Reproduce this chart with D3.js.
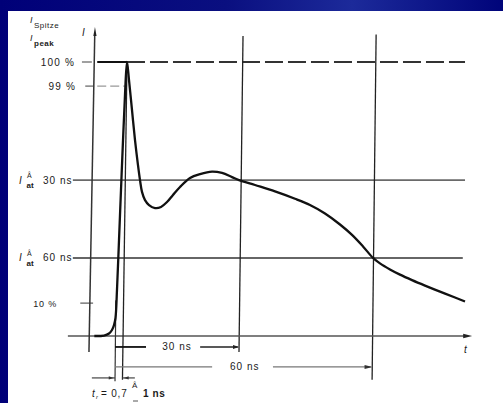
<!DOCTYPE html>
<html><head><meta charset="utf-8">
<script src="https://cdn.jsdelivr.net/npm/d3@7"></script>
<style>body{margin:0;background:#fff}svg{display:block}text{font-family:"Liberation Sans",Arial,sans-serif;fill:#1a1a1a}</style>
</head><body><svg id="c" width="503" height="403"></svg>
<script>
const curveT = [-5, -2.66, -1.45, -0.73, -0.24, 0.12, 0.48, 0.97, 1.45, 1.94, 2.42, 2.9, 3.39, 4.11, 4.84, 5.56, 6.05, 6.53, 7.26, 8.23, 9.68, 11.13, 12.58, 14.03, 15.73, 18.15, 20.57, 23.47, 25.89, 28.31, 30, 33.58, 38.06, 42.54, 45.89, 49.25, 52.61, 55.30, 57.76, 60, 61.56, 63.8, 66.04, 68.73, 71.64, 75.0, 78.36, 80.6];
const curveV = [0, 0.18, 0.9, 2.2, 4.0, 6.6, 16.8, 35.0, 53.3, 71.5, 88.0, 100, 93.4, 82.5, 71.5, 62.4, 56.9, 52.6, 49.6, 47.8, 46.7, 47.1, 48.9, 51.5, 54.4, 57.7, 59.1, 60.0, 59.5, 58.0, 56.9, 55.1, 52.8, 50.1, 47.8, 44.7, 40.7, 36.9, 32.7, 28.5, 26.5, 24.3, 22.4, 20.4, 18.4, 16.2, 14.05, 12.6];
const markTimes = [30, 60];
const markLabels = ["30 ns", "60 ns"];
const pctLabels = ["100 %", "99 %", "10 %"];
const pctValues = [100, 91.2, 12];
const riseTimes = [0, 1.8];
const peakTime = 2.9;

// ---- scales ----
const x = d3.scaleLinear().domain([0, 30, 60]).range([115, 239, 373]);
const y = d3.scaleLinear().domain([0, 100]).range([336, 62]);

const svg = d3.select("#c");
const defs = svg.append("defs");
const g1 = defs.append("linearGradient").attr("id","bg").attr("x1","0").attr("y1","0").attr("x2","1").attr("y2","0");
g1.append("stop").attr("offset","0").attr("stop-color","#000078");
g1.append("stop").attr("offset","0.45").attr("stop-color","#0a0f80");
g1.append("stop").attr("offset","0.7").attr("stop-color","#1c2a9a");
g1.append("stop").attr("offset","1").attr("stop-color","#00047a");
svg.append("rect").attr("width",503).attr("height",403).attr("fill","url(#bg)");
svg.append("rect").attr("x",8).attr("y",11).attr("width",495).attr("height",392).attr("fill","#fff");

function seg(t1,v1,t2,v2,stroke,w,dash){
  const l = svg.append("line").attr("x1",x(t1)).attr("y1",y(v1)).attr("x2",x(t2)).attr("y2",y(v2))
    .attr("stroke",stroke).attr("stroke-width",w);
  if(dash) l.attr("stroke-dasharray",dash);
  return l;
}
function head(t,v,dir,len,hw,color){ // dir: 'r','l','u'
  const px=x(t), py=y(v); let p;
  if(dir==='r') p=[[px,py],[px-len,py-hw],[px-len,py+hw]];
  else if(dir==='l') p=[[px,py],[px+len,py-hw],[px+len,py+hw]];
  else p=[[px,py],[px-hw,py+len],[px+hw,py+len]];
  svg.append("path").attr("d","M"+p.map(q=>q.join(",")).join("L")+"Z").attr("fill",color||"#222");
}

const v30 = curveV[curveT.indexOf(markTimes[0])];
const v60 = curveV[curveT.indexOf(markTimes[1])];

// horizontal levels
seg(-10.2, v30, 80.6, v30, "#6a6a6a", 1.7);
seg(-10.2, v60, 80.1, v60, "#333", 1.5);
// 100 % line
seg(-8, 100, -5.6, 100, "#888", 1.6);
seg(-4.3, 100, peakTime, 100, "#111", 2);
seg(peakTime, 100, 80.6, 100, "#333", 2, "18,5");
// 99 %
seg(-7.2, pctValues[1], -5.2, pctValues[1], "#777", 1.4);
seg(-4.3, pctValues[1], 2.4, pctValues[1], "#999", 1.4, "9,4");
// 10 % tick
seg(-8.4, pctValues[2], -5.3, pctValues[2], "#666", 1.3);

// vertical marker lines (slightly skewed like the scan)
seg(30.9, 109.5, 30, -5.8, "#222", 1.3);
seg(60.7, 110, 59.8, -16, "#222", 1.3);

// axes
seg(-11.4, 0, 81, 0, "#555", 1.6);
head(82.2, 0, 'r', 9, 2.2, "#222");
seg(-6.3, -5.8, -4.9, 110, "#333", 1.5);
head(-4.85, 112.8, 'u', 9, 1.6, "#222");

// rise-time construction lines
seg(riseTimes[0]+0.2, 13, riseTimes[0], -16.5, "#333", 1.2);
seg(peakTime, 100, riseTimes[1], -16, "#222", 1.3);
seg(-5.6, -15.3, riseTimes[0], -15.3, "#444", 1.2);
head(riseTimes[0]-0.3, -15.3, 'r', 5, 1.6, "#333");
seg(riseTimes[1], -15.3, 4.8, -15.3, "#444", 1.2);
head(riseTimes[1]+0.3, -15.3, 'l', 5, 1.6, "#333");

// curve
const pts = curveT.map((t,i)=>[t,curveV[i]]);
svg.append("path").datum(pts)
  .attr("d", d3.line().x(d=>x(d[0])).y(d=>y(d[1])).curve(d3.curveCatmullRom.alpha(0.5)))
  .attr("fill","none").attr("stroke","#111").attr("stroke-width",2.3).attr("stroke-linejoin","round");

// dimension arrows
const yd30 = -4, yd60 = -11.3;
seg(0, yd30, 7.5, yd30, "#111", 1.8);
seg(20.6, yd30, markTimes[0]-0.3, yd30, "#222", 1.5);
head(markTimes[0], yd30, 'r', 6, 2, "#222");
svg.append("text").attr("x", x(15)).attr("y", y(yd30)+3.5).attr("text-anchor","middle")
  .attr("font-size",10).attr("letter-spacing",1).text(markLabels[0]);
seg(0, yd60, 23.5, yd60, "#777", 1.3);
seg(37.6, yd60, markTimes[1]-0.5, yd60, "#777", 1.3);
head(markTimes[1]-0.1, yd60, 'r', 8, 2, "#333");
svg.append("text").attr("x", x(31.3)).attr("y", y(yd60)+3.5).attr("text-anchor","middle")
  .attr("font-size",10).attr("letter-spacing",1).text(markLabels[1]);

// y labels
const pctY = pctValues.map(v=>y(v)+3.5);
svg.append("text").attr("x",75).attr("y",pctY[0]).attr("text-anchor","end").attr("font-size",10).attr("letter-spacing",1.2).text(pctLabels[0]);
svg.append("text").attr("x",76).attr("y",pctY[1]).attr("text-anchor","end").attr("font-size",10).attr("letter-spacing",1.2).text(pctLabels[1]);
svg.append("text").attr("x",57).attr("y",pctY[2]).attr("text-anchor","end").attr("font-size",9).attr("letter-spacing",0.8).text(pctLabels[2]);

function levelLabel(v, lab){
  const yy = y(v);
  svg.append("text").attr("x",19).attr("y",yy+3.5).attr("font-size",10).attr("font-style","italic").text("I");
  svg.append("text").attr("x",27).attr("y",yy-2).attr("font-size",7).text("Â");
  svg.append("text").attr("x",26.5).attr("y",yy+8).attr("font-size",8).attr("font-weight","bold").text("at");
  svg.append("text").attr("x",43).attr("y",yy+3.5).attr("font-size",10).attr("letter-spacing",1).text(lab);
}
levelLabel(v30, markLabels[0]);
levelLabel(v60, markLabels[1]);

// header labels
svg.append("text").attr("x",30).attr("y",23).attr("font-size",9).attr("font-style","italic").text("I");
svg.append("text").attr("x",34).attr("y",28).attr("font-size",8).attr("letter-spacing",0.5).text("Spitze");
svg.append("text").attr("x",30).attr("y",41).attr("font-size",9).attr("font-style","italic").text("I");
svg.append("text").attr("x",34).attr("y",46).attr("font-size",8).attr("letter-spacing",0.5).attr("font-weight","bold").text("peak");
svg.append("text").attr("x",82).attr("y",36).attr("font-size",10).attr("font-style","italic").text("I");
svg.append("text").attr("x",464).attr("y",353).attr("font-size",10).attr("font-style","italic").text("t");

// rise-time text
svg.append("text").attr("x",92).attr("y",397).attr("font-size",10).attr("font-style","italic").text("t");
svg.append("text").attr("x",96).attr("y",399).attr("font-size",6).attr("font-style","italic").text("r");
svg.append("text").attr("x",101).attr("y",397).attr("font-size",10).attr("letter-spacing",0.8).text("= 0,7");
svg.append("text").attr("x",132).attr("y",388).attr("font-size",8).text("Â");
svg.append("line").attr("x1",133).attr("y1",401).attr("x2",138).attr("y2",401).attr("stroke","#555").attr("stroke-width",1);
svg.append("text").attr("x",143).attr("y",397).attr("font-size",10).attr("font-weight","bold").attr("letter-spacing",0.6).text("1 ns");
</script></body></html>
